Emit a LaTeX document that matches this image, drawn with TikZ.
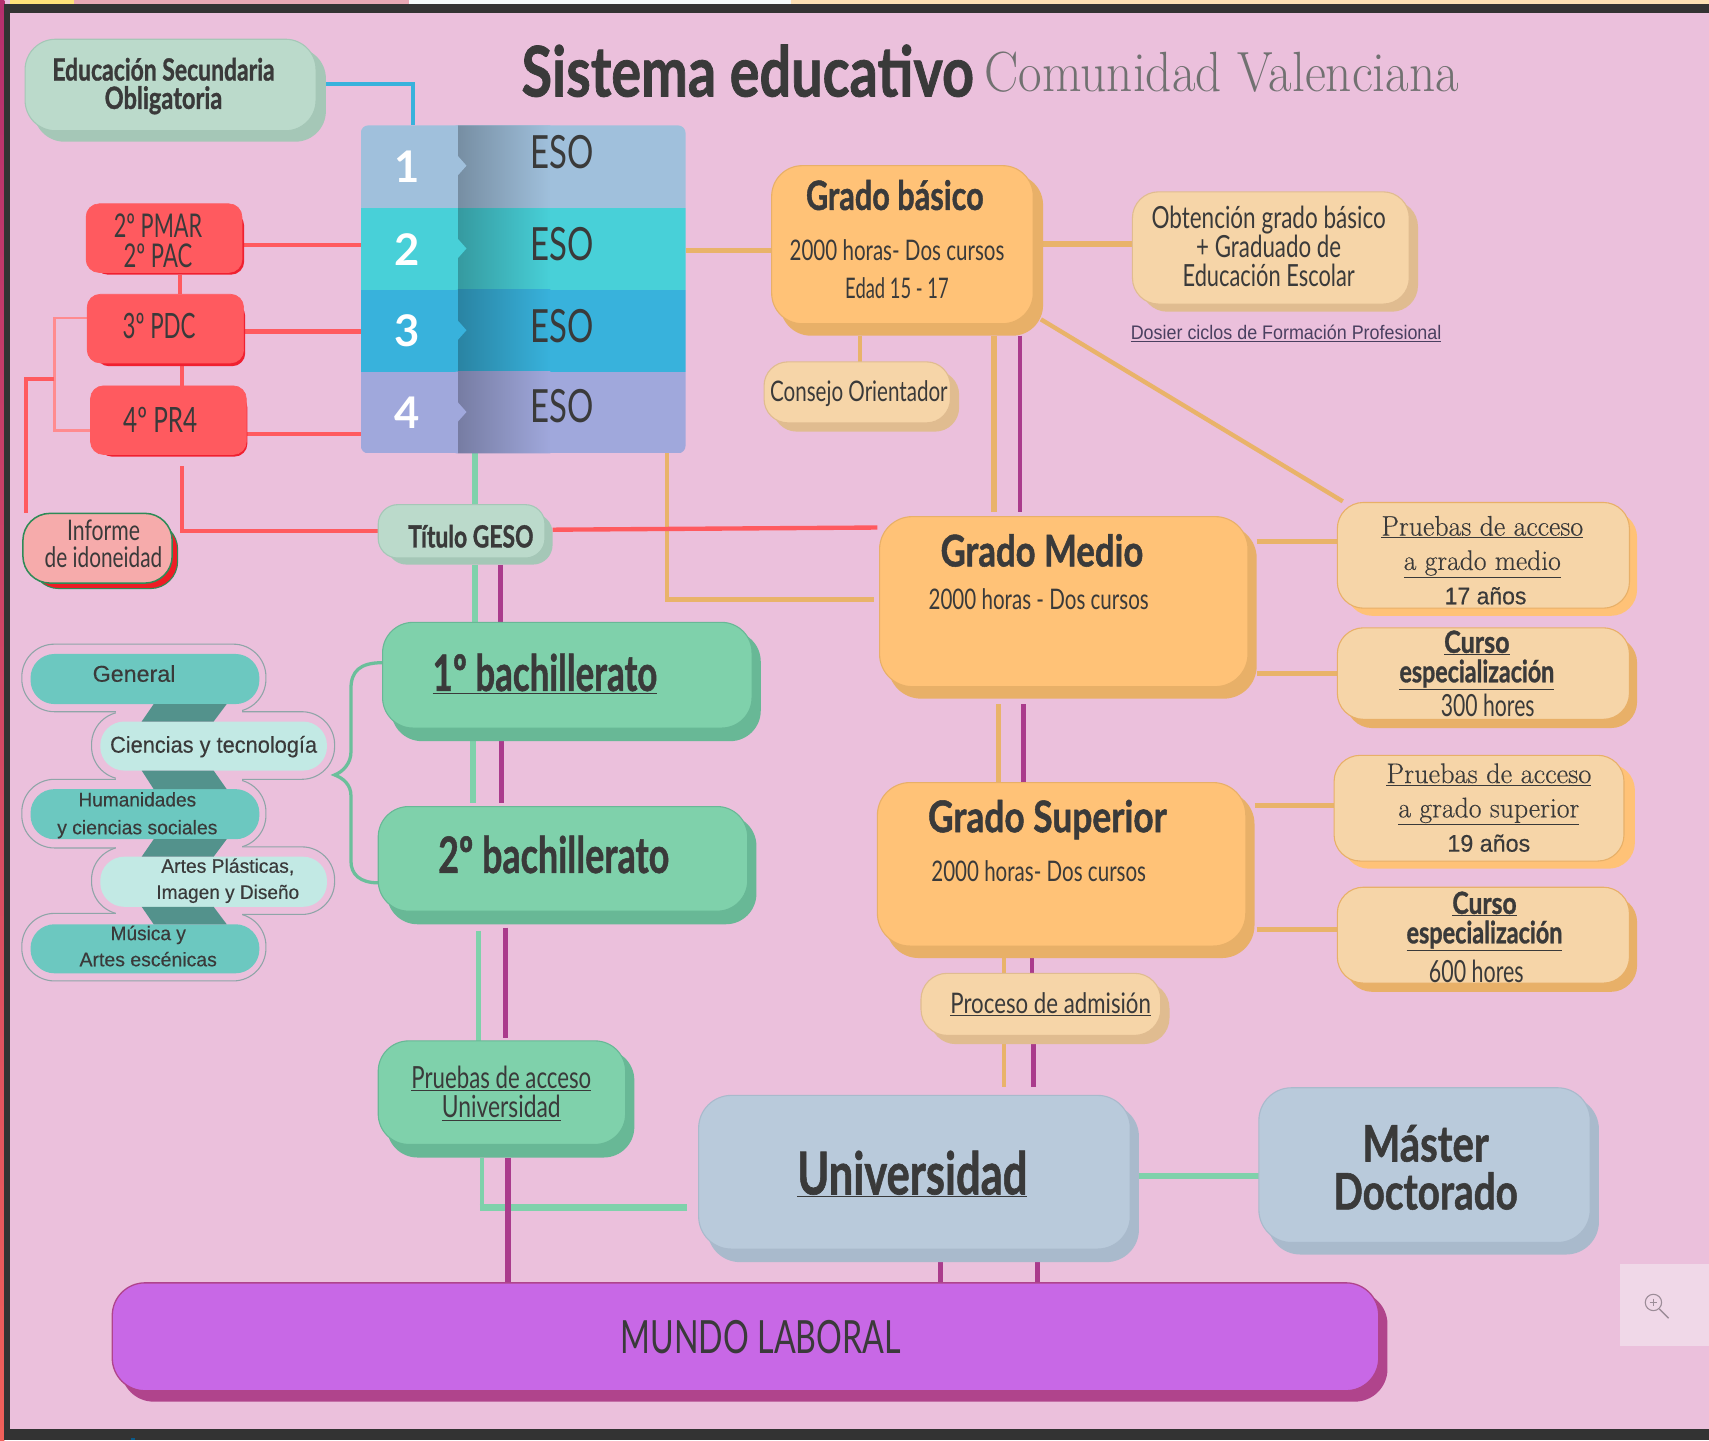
\documentclass[tikz,border=0pt]{standalone}
\usepackage{fontspec}
\usepackage{graphicx}
\newfontfamily\cf{Lato}
\newfontfamily\cfk[BoldFeatures={FakeBold=1.2}]{Lato}
\newfontfamily\lsf[FakeBold=.35]{Liberation Sans}
\newfontfamily\lsd{Liberation Sans}
\newfontfamily\slab[FakeBold=.35]{Latin Modern Roman}
\newcommand\wt[2]{\resizebox{#1pt}{\height}{#2}}
\newcommand\fs[2]{\fontsize{#1}{#2}\selectfont}
\definecolor{ink}{HTML}{3A3A3A}
\definecolor{bgp}{HTML}{EBC0DC}
\definecolor{dark}{HTML}{333333}
\definecolor{orl}{HTML}{E9B36A}
\definecolor{mgl}{HTML}{AA3B8C}
\definecolor{rdl}{HTML}{FF5A5F}
\definecolor{grl}{HTML}{7FD1AB}
\definecolor{rowa}{HTML}{A0C0DC}
\definecolor{rowb}{HTML}{48D0D8}
\definecolor{rowc}{HTML}{38B2DC}
\definecolor{rowd}{HTML}{A0A8DC}
\definecolor{sageT}{HTML}{BBDACB}\definecolor{sageS}{HTML}{A5C7B7}
\definecolor{redT}{HTML}{FF5A5F}\definecolor{redS}{HTML}{F02030}
\definecolor{mintT}{HTML}{7FD1AB}\definecolor{mintS}{HTML}{68B896}
\definecolor{orT}{HTML}{FFC277}\definecolor{orS}{HTML}{E8B068}
\definecolor{peT}{HTML}{F6D5A8}\definecolor{peS}{HTML}{E0BC90}
\definecolor{blT}{HTML}{B9CADB}\definecolor{blS}{HTML}{A9BACC}
\definecolor{puT}{HTML}{C868E6}\definecolor{puS}{HTML}{B0448C}
\definecolor{roT}{HTML}{F6ABAB}\definecolor{roS}{HTML}{EE1C25}\definecolor{roB}{HTML}{2E8B57}
\definecolor{pilA}{HTML}{6CC8C0}\definecolor{pilB}{HTML}{C2E9E4}\definecolor{pilO}{HTML}{8FA5A8}
\definecolor{lnk}{HTML}{53928C}\definecolor{brc}{HTML}{6BBF9B}
\definecolor{zbox}{HTML}{F0D8E8}\definecolor{zic}{HTML}{9C8C98}
\definecolor{dos}{HTML}{4A4060}
\definecolor{stY}{HTML}{FFE27A}\definecolor{stP}{HTML}{E8A8B4}\definecolor{stW}{HTML}{F4FAFA}\definecolor{stO}{HTML}{FCE0B4}
\definecolor{lftA}{HTML}{B5306E}\definecolor{lftB}{HTML}{F0605A}\definecolor{tick}{HTML}{0A5A8A}
\pgfdeclarelayer{back}\pgfdeclarelayer{conn}
\pgfsetlayers{back,conn,main}
\tikzset{
 cr/.style={rounded corners=#1pt},
 lbl/.style={inner sep=0pt,align=center,text=ink},
 wire/.style={line cap=butt,line join=miter},
 org/.style={wire,draw=orl,line width=5pt},
 orgs/.style={wire,draw=orl,line width=4pt},
 mag/.style={wire,draw=mgl,line width=5pt},
 magt/.style={wire,draw=mgl,line width=4pt},
 rd/.style={wire,draw=rdl,line width=4pt},
 rdt/.style={wire,draw=rdl!70!white,line width=2pt},
 gr/.style={wire,draw=grl,line width=5pt},
 grw/.style={wire,draw=grl,line width=6pt},
 blu/.style={wire,draw=rowc,line width=4pt},
 pillA/.style={fill=pilA,cr=22},
 pillB/.style={fill=pilB,cr=22},
 pillO/.style={fill=bgp,draw=pilO,line width=1pt,cr=30},
 linkp/.style={fill=lnk},
 sage-t/.style={fill=sageT,draw=sageS,line width=1pt},sage-s/.style={fill=sageS},
 red-t/.style={fill=redT,draw=redT,line width=.6pt},red-s/.style={fill=redS},
 mint-t/.style={fill=mintT,draw=mintS,line width=1pt},mint-s/.style={fill=mintS},
 ora-t/.style={fill=orT,draw=orS,line width=1pt},ora-s/.style={fill=orS},
 pea-t/.style={fill=peT,draw=peS,line width=1pt},pea-s/.style={fill=peS},
 peo-t/.style={fill=peT,draw=orS,line width=1pt},peo-s/.style={fill=orT},
 peb-t/.style={fill=peT,draw=orS,line width=1pt},peb-s/.style={fill=orS},
 blu-t/.style={fill=blT,draw=blS,line width=1pt},blu-s/.style={fill=blS},
 pur-t/.style={fill=puT,draw=puS,line width=1.2pt},pur-s/.style={fill=puS},
 ros-t/.style={fill=roT,draw=roB,line width=1.4pt},
 ros-s/.style={fill=roS,draw=roB,line width=1pt},
}
\newcommand\rbox[6]{%
 \pgfmathsetmacro\rw{#5-#3}\pgfmathsetmacro\rh{#6-#4}%
 \pgfmathsetmacro\rx{(#3+#5)/2}\pgfmathsetmacro\ry{(#4+#6)/2}%
 \node[rectangle,inner sep=0pt,outer sep=0pt,minimum width=\rw pt,minimum height=\rh pt,#2] (#1) at (\rx,\ry) {};}
\newcommand\card[9]{%
 \rbox{#1-s}{#2-s,cr=#3}{(#4+8)}{(#5+8)}{#8}{#9}%
 \rbox{#1}{#2-t,cr=#3}{#4}{#5}{#6}{#7}}
\begin{document}
\begin{tikzpicture}[x=1pt,y=-1pt]
\useasboundingbox (0,0) rectangle (1568,1321.2);
% page
\begin{pgfonlayer}{back}
 \fill[bgp] (0,0) rectangle (1568,1321.2);
 \fill[stY] (9,0) rectangle (68,4);
 \fill[stP] (68,0) rectangle (375,4);
 \fill[stW] (375,0) rectangle (726,4);
 \fill[stO] (726,0) rectangle (1568,4);
 \fill[dark] (0,4) rectangle (1568,12);
 \shade[top color=lftA,bottom color=lftB] (0,0) rectangle (4,1321.2);
 \fill[dark] (4,4) rectangle (9,1321.2);
 \fill[dark] (4,1311) rectangle (1568,1321.2);
 \fill[tick] (120,1319) rectangle (124,1321.2);
\end{pgfonlayer}
% cards
\card{seo}{sage}{28}{23}{36}{290}{120}{299}{130}
\card{pmar}{red}{12}{79}{187}{222}{250}{224}{252}
\card{pdc}{red}{12}{80}{270}{223.5}{333}{225}{336}
\card{pr}{red}{12}{83}{354}{226}{417}{227}{419}
\card{inf}{ros}{25}{21}{471}{158}{535}{163}{540}
\card{tit}{sage}{18}{347}{463}{500}{512}{507}{518}
\card{ba}{mint}{28}{351}{571}{690}{668}{698}{680}
\card{bb}{mint}{28}{347}{740}{686}{836}{694}{848}
\card{pu}{mint}{28}{347}{955}{574}{1050}{582}{1062}
\card{gb}{ora}{28}{708}{152}{948}{297}{957}{308}
\card{ob}{pea}{24}{1039}{176}{1293}{279}{1301}{286}
\card{co}{pea}{22}{701}{332}{872}{388}{880}{396}
\card{gm}{ora}{30}{807}{474}{1145}{630}{1153}{641}
\card{gs}{ora}{30}{805}{718}{1143}{868}{1151}{879}
\card{pm}{peo}{24}{1227}{461}{1495}{558}{1502}{565}
\card{cm}{peb}{24}{1227}{576}{1495}{660}{1502}{668}
\card{ps}{peo}{24}{1224}{693}{1490}{790}{1500}{797}
\card{cs}{peb}{24}{1227}{814}{1495}{902}{1502}{910}
\card{pa}{pea}{24}{845}{893}{1065}{950}{1073}{958}
\card{un}{blu}{30}{641}{1005}{1037}{1146}{1045}{1158}
\card{ma}{blu}{30}{1155}{998}{1459}{1140}{1467}{1151}
\card{mu}{pur}{30}{103}{1177}{1265}{1276}{1273}{1286}
% ESO table
\begin{scope}
 \clip[rounded corners=7pt] (331,115) rectangle (629,416);
 \foreach \i/\col/\ya/\yb in {1/rowa/115/191,2/rowb/191/266,3/rowc/266/341,4/rowd/341/416}{
  \rbox{eso\i}{fill=\col}{331}{\ya}{629}{\yb}
  \shade[left color=\col!74!black,right color=\col] (420,\ya) rectangle (505,\yb);
  \fill[\col] (418,\ya) -- (420,\ya) -- (420,\ya+28) -- (428,\ya+37) -- (420,\ya+46) -- (420,\yb) -- (418,\yb) -- cycle;
 }
\end{scope}
\foreach \i/\yn/\ye in {1/153/140,2/229/224,3/303/299,4/379/373}{
 \node[lbl,text=white,font=\cf\fs{40}{40}\bfseries] (num\i) at (374,\yn) {\i};
 \node[lbl,font=\cf\fs{42}{42}] (esot\i) at (516,\ye) {\wt{58}{ESO}};
}
% programme list
\rbox{ol1}{pillO}{20}{591}{244}{653}
\rbox{ol3}{pillO}{20}{715}{244}{778}
\rbox{ol5}{pillO}{20}{838}{244}{900}
\rbox{ol2}{pillO}{84}{653}{307}{715}
\rbox{ol4}{pillO}{84}{777}{307}{839}
\fill[bgp] (106,648) rectangle (222,659);
\fill[bgp] (106,710) rectangle (222,721);
\fill[bgp] (106,772) rectangle (222,783);
\fill[bgp] (106,834) rectangle (222,845);
\rbox{p1}{pillA}{28}{600}{238}{646}
\rbox{p2}{pillB}{92}{662}{300}{707}
\rbox{p3}{pillA}{28}{724}{238}{770}
\rbox{p4}{pillB}{92}{786}{300}{832}
\rbox{p5}{pillA}{28}{848}{238}{893}
\fill[linkp] (141,646) -- (208,646) -- (196,662) -- (130,662) -- cycle;
\fill[linkp] (130,707) -- (196,707) -- (208,724) -- (141,724) -- cycle;
\fill[linkp] (141,770) -- (208,770) -- (196,786) -- (130,786) -- cycle;
\fill[linkp] (130,832) -- (196,832) -- (208,848) -- (141,848) -- cycle;
% zoom control
\rbox{zb}{fill=zbox}{1486}{1160}{1568}{1235}
\draw[zic,line width=1pt] (1517,1195) circle (7.5);
\draw[zic,line width=1.2pt] (1522.5,1201) -- (1531,1209.5);
\draw[zic,line width=.8pt] (1513.5,1195) -- (1520.5,1195) (1517,1191.5) -- (1517,1198.5);
% connectors
\begin{pgfonlayer}{conn}
 \draw[blu] (seo-s.east |- 0,77) -| (eso1.north -| 379,0);
 \draw[org] (eso2.east |- 0,230) -- (gb.west |- 0,230);
 \draw[org] (gb-s.east |- 0,224) -- (ob.west |- 0,224);
 \draw[orgs] (gb-s.south -| 789,0) -- (co.north -| 789,0);
 \draw[org] (gb-s.south -| 912,0) -- ([yshift=4pt]gm.north -| 912,0);
 \draw[magt] (gb-s.south -| 936,0) -- ([yshift=4pt]gm.north -| 936,0);
 \draw[orgs] (955,293) coordinate (da) -- (1232,460) coordinate (db);
 \draw[orgs] (eso4.south -| 612,0) |- ([xshift=-5pt]gm.west |- 0,550);
 \draw[org] (gm-s.east |- 0,497) -- (pm.west |- 0,497);
 \draw[org] (gm-s.east |- 0,618) -- (cm.west |- 0,618);
 \draw[org] ([yshift=-5pt]gm-s.south -| 916,0) -- (gs.north -| 916,0);
 \draw[mag] ([yshift=-5pt]gm-s.south -| 939,0) -- (gs.north -| 939,0);
 \draw[org] (gs-s.east |- 0,739) -- (ps.west |- 0,739);
 \draw[org] ([xshift=2pt]gs-s.east |- 0,853) -- (cs.west |- 0,853);
 \draw[orgs] (gs-s.south -| 921,0) -- (pa.north -| 921,0);
 \draw[magt] (gs-s.south -| 947,0) -- (pa.north -| 947,0);
 \draw[orgs] (pa-s.south -| 921,0) -- ([yshift=8pt]un.north -| 921,0);
 \draw[mag] (pa-s.south -| 948,0) -- ([yshift=8pt]un.north -| 948,0);
 % red
 \draw[rd] (pmar-s.east |- 0,225) -- (eso2.west |- 0,225);
 \draw[rd] (pdc-s.east |- 0,304) -- (eso3.west |- 0,304);
 \draw[rd] (pr-s.east |- 0,398) -- (eso4.west |- 0,398);
 \draw[rd] (pmar-s.south -| 165,0) -- (pdc.north -| 165,0);
 \draw[rd] (pdc-s.south -| 167,0) -- (pr.north -| 167,0);
 \draw[rdt] (pdc.west |- 0,292) -| (50,348) coordinate (jn) |- (pr.west |- 0,395);
 \draw[rd] (jn) -| (inf.north -| 24,0);
 \draw[rd] ([yshift=-9pt]pr-s.south -| 167,0) |- (tit.west |- 0,487);
 \draw[rd] (tit-s.east |- 0,486) -- ([xshift=-2pt]gm.west |- 0,484);
 % green and magenta
 \draw[gr] (eso4.south -| 436,0) -- (tit.north -| 436,0);
 \draw[gr] (tit-s.south -| 436,0) -- (ba.north -| 436,0);
 \draw[mag] (tit-s.south -| 459,0) -- (ba.north -| 459,0);
 \draw[gr] (ba-s.south -| 434,0) -- ([yshift=3pt]bb.north -| 434,0);
 \draw[mag] (ba-s.south -| 460,0) -- ([yshift=3pt]bb.north -| 460,0);
 \draw[gr] ([yshift=-6pt]bb-s.south -| 439,0) -- (pu.north -| 439,0);
 \draw[mag] ([yshift=-3pt]bb-s.south -| 464,0) -- ([yshift=3pt]pu.north -| 464,0);
 \draw[wire,draw=grl,line width=4pt] (pu-s.south -| 442,0) -- (442,1108) coordinate (gj);
 \draw[grw] ([xshift=-2pt]gj) -- ([xshift=-11pt]un.west |- gj);
 \draw[mag] (pu-s.south -| 466,0) -- (mu.north -| 466,0);
 \draw[grw] (un-s.east |- 0,1079) -- (ma.west |- 0,1079);
 \draw[magt] ([yshift=7pt]un-s.south -| 863,0) -- (mu.north -| 863,0);
 \draw[mag] ([yshift=3pt]un-s.south -| 952,0) -- ([yshift=-3pt]mu.north -| 952,0);
 % brace
 \draw[draw=brc,line width=3pt,line cap=round] (ba.west |- 0,608) .. controls (330,608) and (322,616) .. (322,632) -- (322,690) .. controls (322,700) and (315,708) .. (307,711) coordinate (bp) .. controls (315,714) and (322,720) .. (322,730) -- (322,790) .. controls (322,802) and (330,810) .. (bb.west |- 0,810);
\end{pgfonlayer}
% texts
\node[lbl,font=\cfk\fs{64}{64}\bfseries] (t1) at (686,65) {\wt{415}{Sistema educativo}};
\node[lbl,font=\fs{52}{52},text=ink!72!white] (t2) at (1121,66) {\wt{435}{Comunidad Valenciana}};
\node[lbl,font=\cfk\fs{28}{26}\bfseries] (tseo) at (150,79) {\wt{204}{Educación Secundaria}\\\wt{108}{Obligatoria}};
\node[lbl,font=\cf\fs{30}{28}] (tpmar) at (145,221) {\wt{81}{2º PMAR}\\\wt{63}{2º PAC}};
\node[lbl,font=\cf\fs{32}{32}] (tpdc) at (146,299) {\wt{67}{3º PDC}};
\node[lbl,font=\cf\fs{32}{32}] (tpr) at (147,385) {\wt{68}{4º PR4}};
\node[lbl,font=\cf\fs{26}{24}] (tinf) at (95,499) {\wt{67}{Informe}\\\wt{108}{de idoneidad}};
\node[lbl,font=\cfk\fs{28}{28}\bfseries] (ttit) at (432,492) {\wt{115}{Título GESO}};
\node[lbl,font=\lsf\fs{21}{21}] (tp1) at (123,618) {\wt{76}{General}};
\node[lbl,font=\lsf\fs{21}{21}] (tp2) at (196,685) {\wt{190}{Ciencias y tecnología}};
\node[lbl,font=\lsf\fs{18}{25.5}] (tp3) at (126,748) {\wt{108}{Humanidades}\\\wt{147}{y ciencias sociales}};
\node[lbl,font=\lsf\fs{18}{24}] (tp4) at (209,808) {\wt{122}{Artes Plásticas,}\\\wt{131}{Imagen y Diseño}};
\node[lbl,font=\lsf\fs{18}{24}] (tp5) at (136,868) {\wt{69}{Música y}\\\wt{126}{Artes escénicas}};
\node[lbl,font=\cfk\fs{46}{46}\bfseries] (tba) at (500,618) {\wt{206}{\underline{1º bachillerato}}};
\node[lbl,font=\cfk\fs{46}{46}\bfseries] (tbb) at (508,784) {\wt{212}{2º bachillerato}};
\node[lbl,font=\cf\fs{28}{27}] (tpu) at (460,1003) {\wt{165}{\underline{Pruebas de acceso}}\\\wt{109}{\underline{Universidad}}};
\node[lbl,font=\cfk\fs{37}{37}\bfseries] (tgb) at (821,179) {\wt{163}{Grado básico}};
\node[lbl,font=\cf\fs{26}{35}] (tgb2) at (823,247) {\wt{197}{2000 horas- Dos cursos}\\\wt{95}{Edad 15 - 17}};
\node[lbl,font=\cf\fs{28}{27}] (tob) at (1164,226) {\wt{215}{Obtención grado básico}\\\wt{133}{+ Graduado de}\\\wt{158}{Educación Escolar}};
\node[lbl,font=\lsd\fs{18}{18},text=dos] (tdo) at (1180,306) {\wt{285}{\underline{Dosier ciclos de Formación Profesional}}};
\node[lbl,font=\cf\fs{26}{26}] (tco) at (788,361) {\wt{163}{Consejo Orientador}};
\node[lbl,font=\cfk\fs{40}{40}\bfseries] (tgm) at (956,505) {\wt{186}{Grado Medio}};
\node[lbl,font=\cf\fs{26}{26}] (tgm2) at (953,550) {\wt{202}{2000 horas - Dos cursos}};
\node[lbl,font=\cfk\fs{40}{40}\bfseries] (tgs) at (961,752) {\wt{219}{Grado Superior}};
\node[lbl,font=\cf\fs{26}{26}] (tgs2) at (953,799) {\wt{197}{2000 horas- Dos cursos}};
\node[lbl,font=\slab\fs{26}{31.5}] (tpm) at (1360,514) {\wt{185}{\underline{Pruebas de acceso}}\\\wt{144}{\underline{a grado medio}}\\\hspace{6pt}{\lsf\fs{22}{22}\wt{75}{17 años}}};
\node[lbl,font=\cfk\fs{28}{27}] (tcm) at (1355,618) {\wt{60}{\bfseries\underline{Curso}}\\\wt{142}{\bfseries\underline{especialización}}\\[3pt]\hspace{20pt}\wt{86}{300 hores}};
\node[lbl,font=\slab\fs{26}{31.5}] (tps) at (1366,741) {\wt{188}{\underline{Pruebas de acceso}}\\\wt{166}{\underline{a grado superior}}\\{\lsf\fs{22}{22}\wt{76}{19 años}}};
\node[lbl,font=\cfk\fs{28}{27}] (tcs) at (1362,860) {\wt{59}{\bfseries\underline{Curso}}\\\wt{143}{\bfseries\underline{especialización}}\\[8pt]\hspace{-15pt}\wt{87}{600 hores}};
\node[lbl,font=\cf\fs{26}{26}] (tpa) at (964,921) {\wt{184}{\underline{Proceso de admisión}}};
\node[lbl,font=\cfk\fs{54}{54}\bfseries] (tun) at (837,1077) {\wt{211}{\underline{Universidad}}};
\node[lbl,font=\cfk\fs{46}{44}\bfseries] (tma) at (1308,1071) {\wt{116}{Máster}\\\wt{169}{Doctorado}};
\node[lbl,font=\cf\fs{42}{42}] (tmu) at (698,1227) {\wt{257}{MUNDO LABORAL}};
\end{tikzpicture}
\end{document}
